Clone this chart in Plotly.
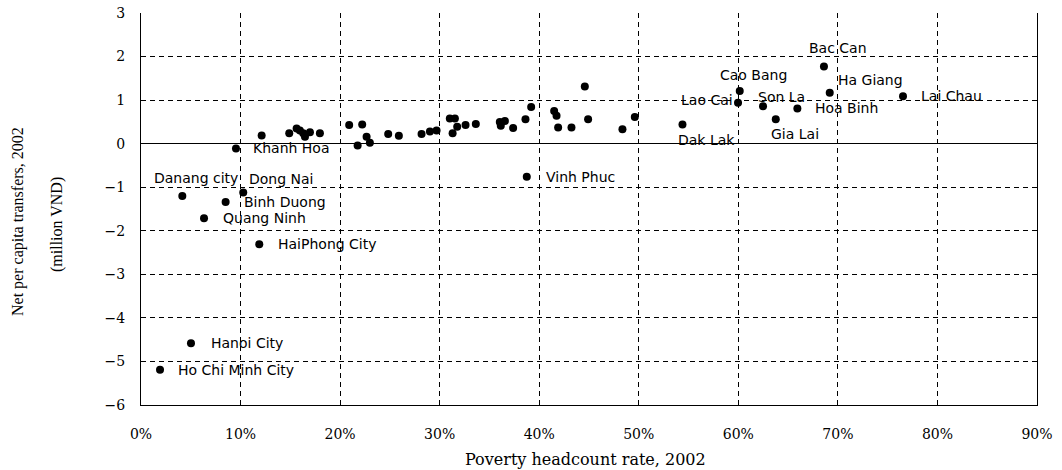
import plotly.graph_objects as go

# Labeled provinces
label_names = ["Khanh Hoa", "Danang city", "Dong Nai", "Binh Duong", "Quang Ninh",
               "HaiPhong City", "Hanoi City", "Ho Chi Minh City", "Vinh Phuc",
               "Dak Lak", "Cao Bang", "Lao Cai", "Son La", "Gia Lai", "Hoa Binh",
               "Bac Can", "Ha Giang", "Lai Chau"]
label_poverty = [9.54, 4.15, 10.27, 8.50, 6.33, 11.88, 5.02, 1.91, 38.75,
                 54.39, 60.14, 59.97, 62.48, 63.76, 65.93, 68.60, 69.18, 76.54]
label_transfer = [-0.11, -1.20, -1.12, -1.34, -1.71, -2.31, -4.58, -5.19, -0.76,
                  0.44, 1.21, 0.94, 0.86, 0.56, 0.81, 1.77, 1.17, 1.09]

# Unlabeled provinces
other_poverty = [12.12, 14.89, 15.63, 15.96, 16.30, 16.47, 16.97, 17.97, 20.91, 22.22,
                 22.66, 21.76, 22.99, 24.83, 25.90, 28.18, 29.02, 29.69, 31.02, 31.53,
                 31.30, 31.76, 32.60, 33.63, 36.04, 36.55, 36.14, 37.38, 38.62, 39.19,
                 41.50, 41.74, 41.90, 43.24, 44.58, 44.91, 48.36, 49.60]
other_transfer = [0.19, 0.24, 0.35, 0.30, 0.24, 0.16, 0.26, 0.24, 0.43, 0.44,
                  0.16, -0.04, 0.02, 0.22, 0.18, 0.22, 0.28, 0.30, 0.58, 0.58,
                  0.24, 0.39, 0.43, 0.45, 0.50, 0.52, 0.41, 0.36, 0.56, 0.84,
                  0.75, 0.64, 0.37, 0.37, 1.31, 0.56, 0.33, 0.61]

x_tickvals = [0, 10, 20, 30, 40, 50, 60, 70, 80, 90]
x_ticktext = ["0%", "10%", "20%", "30%", "40%", "50%", "60%", "70%", "80%", "90%"]
y_tickvals = [3, 2, 1, 0, -1, -2, -3, -4, -5, -6]

# label offsets in pixels (dx, dy-up)
label_offsets = [(16, 0), (-29, 18), (5, 13), (17, 0), (18, 0),
                 (18, 0), (19, 0), (17, 0), (18, 0),
                 (-5, -15), (-21, 16), (-58, 3), (-6, 9), (-6, -15), (17, 0),
                 (-16, 19), (7, 13), (17, 0)]

fig = go.Figure()
fig.add_trace(go.Scatter(x=other_poverty + label_poverty,
                         y=other_transfer + label_transfer,
                         mode="markers",
                         marker=dict(color="black", size=8),
                         hoverinfo="x+y", showlegend=False))

annotations = []
for name, xv, yv, (dx, dy) in zip(label_names, label_poverty, label_transfer, label_offsets):
    annotations.append(dict(x=xv, y=yv, xref="x", yref="y", text=name, showarrow=False,
                            xanchor="left", yanchor="middle", xshift=dx, yshift=dy,
                            borderpad=0,
                            font=dict(family="DejaVu Sans", size=14, color="black")))

annotations.append(dict(x=0.5, y=0, xref="paper", yref="paper",
                        text="Poverty headcount rate, 2002", showarrow=False,
                        xanchor="center", yanchor="middle", yshift=-54, xshift=-4,
                        font=dict(family="DejaVu Serif", size=16, color="black")))
annotations.append(dict(x=0, y=0.5, xref="paper", yref="paper",
                        text="Net per capita transfers, 2002", showarrow=False, textangle=-90,
                        xanchor="center", yanchor="middle", xshift=-123, yshift=-13,
                        font=dict(family="Liberation Serif", size=16, color="black")))
annotations.append(dict(x=0, y=0.5, xref="paper", yref="paper",
                        text="(million VND)", showarrow=False, textangle=-90,
                        xanchor="center", yanchor="middle", xshift=-84, yshift=-16,
                        font=dict(family="Liberation Serif", size=16, color="black")))

fig.update_layout(
    width=1062, height=470,
    margin=dict(l=141, r=25, t=13, b=65, autoexpand=False),
    plot_bgcolor="white", paper_bgcolor="white",
    annotations=annotations,
    xaxis=dict(range=[0, 90], tickvals=x_tickvals, ticktext=x_ticktext,
               showgrid=True, gridcolor="black", gridwidth=1, griddash="5px,4px",
               showline=True, linecolor="black", linewidth=1, mirror=False,
               zeroline=False, ticks="", ticklabelstandoff=16, automargin=False,
               tickfont=dict(family="DejaVu Serif", size=14, color="black")),
    yaxis=dict(range=[-6, 3], tickvals=y_tickvals,
               showgrid=True, gridcolor="black", gridwidth=1, griddash="5px,4px",
               showline=True, linecolor="black", linewidth=1, mirror=True,
               zeroline=True, zerolinecolor="black", zerolinewidth=1,
               ticks="", ticklabelstandoff=12, automargin=False,
               tickfont=dict(family="DejaVu Serif", size=14, color="black")),
)

fig.write_html("out.html", config={"displayModeBar": False},
               post_script="document.body.style.margin='0';document.body.style.overflow='hidden';")
